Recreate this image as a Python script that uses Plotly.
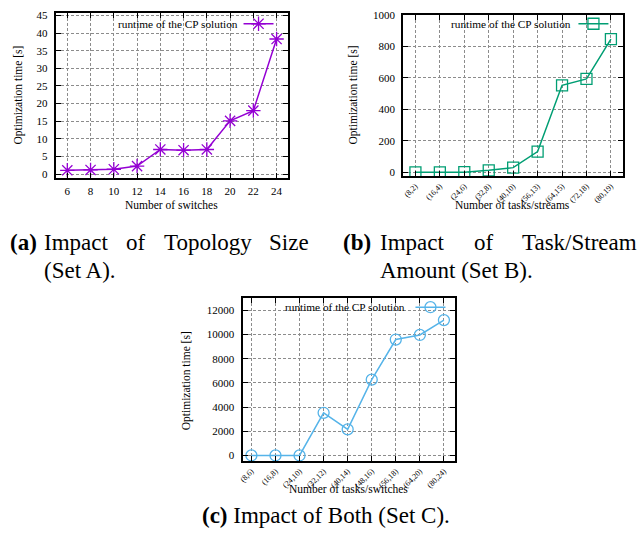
import plotly.graph_objects as go

W, H = 644, 543

# ---------------- data ----------------
a_switches = [6, 8, 10, 12, 14, 16, 18, 20, 22, 24]
a_runtime = [1.1, 1.2, 1.4, 2.3, 7.0, 6.8, 7.0, 15.1, 18.0, 38.3]
a_yticks = [0, 5, 10, 15, 20, 25, 30, 35, 40, 45]

b_labels = ["(8,2)", "(16,4)", "(24,6)", "(32,8)", "(40,10)", "(56,13)", "(64,15)", "(72,18)", "(80,19)"]
b_runtime = [1, 1, 2, 14, 31, 133, 553, 594, 846]
b_yticks = [0, 200, 400, 600, 800, 1000]

c_labels = ["(8,6)", "(16,8)", "(24,10)", "(32,12)", "(40,14)", "(48,16)", "(56,18)", "(64,20)", "(80,24)"]
c_runtime = [0, 0, 0, 3530, 2160, 6270, 9590, 9970, 11200]
c_yticks = [0, 2000, 4000, 6000, 8000, 10000, 12000]

series_name = "runtime of the CP solution"
ytitle = "Optimization time [s]"

FONT = "Liberation Serif, 'Times New Roman', Times, serif"
COL_A = "#9400D3"
COL_B = "#009E73"
COL_C = "#56B4E9"


def fx(px):
    return px / W


def fy(py):
    return 1 - py / H


fig = go.Figure()

fig.add_trace(go.Scatter(
    x=a_switches, y=a_runtime, mode="lines+markers", name="", showlegend=True,
    line=dict(color=COL_A, width=1.5),
    marker=dict(symbol="asterisk-open", size=12, color=COL_A, line=dict(color=COL_A, width=1.3)),
    xaxis="x", yaxis="y", legend="legend"))

fig.add_trace(go.Scatter(
    x=b_labels, y=b_runtime, mode="lines+markers", name="", showlegend=True,
    line=dict(color=COL_B, width=1.5),
    marker=dict(symbol="square-open", size=11, color=COL_B, line=dict(color=COL_B, width=1.3)),
    xaxis="x2", yaxis="y2", legend="legend2"))

fig.add_trace(go.Scatter(
    x=c_labels, y=c_runtime, mode="lines+markers", name="", showlegend=True,
    line=dict(color=COL_C, width=1.5),
    marker=dict(symbol="circle-open", size=11, color=COL_C, line=dict(color=COL_C, width=1.3)),
    xaxis="x3", yaxis="y3", legend="legend3"))

tickfont = dict(family=FONT, size=11, color="black")
rotfont = dict(family=FONT, size=8, color="black")
grid = dict(showgrid=True, gridcolor="#8c8c8c", gridwidth=0.8, griddash="3px,2px",
            showline=True, linecolor="black", linewidth=2, mirror="ticks",
            ticks="inside", ticklen=5, tickwidth=1, tickcolor="black",
            zeroline=False)

fig.update_layout(
    width=W, height=H, margin=dict(l=0, r=0, t=0, b=0),
    paper_bgcolor="white", plot_bgcolor="white",
    font=dict(family=FONT, color="black"),
    showlegend=True,
    xaxis=dict(domain=[fx(52), fx(286)], range=[5, 25], tickvals=a_switches,
               anchor="y", ticklabelstandoff=1, tickfont=tickfont, **grid),
    yaxis=dict(domain=[fy(175), fy(7)], range=[-1.2, 45.7], tickvals=a_yticks,
               anchor="x", ticklabelstandoff=4, tickfont=tickfont, **grid),
    xaxis2=dict(domain=[fx(401.7), fx(623)], range=[-0.5, 8.5], type="category",
                anchor="y2", tickangle=-45, tickfont=rotfont, **grid),
    yaxis2=dict(domain=[fy(173), fy(9)], range=[-25, 1000], tickvals=b_yticks,
                anchor="x2", ticklabelstandoff=4, tickfont=tickfont, **grid),
    xaxis3=dict(domain=[fx(240), fx(454.3)], range=[-0.37, 8.48], type="category",
                anchor="y3", tickangle=-45, tickfont=rotfont, **grid),
    yaxis3=dict(domain=[fy(462.3), fy(296.7)], range=[-500, 13000], tickvals=c_yticks,
                tickformat="d", anchor="x3", ticklabelstandoff=4, tickfont=tickfont, **grid),
)

leg_font = dict(family=FONT, size=11.3, color="black")
leg_common = dict(bgcolor="rgba(0,0,0,0)", borderwidth=0, xanchor="left", yanchor="middle",
                  font=leg_font, itemwidth=30, valign="middle")
fig.update_layout(
    legend=dict(x=fx(236), y=fy(18), **leg_common),
    legend2=dict(x=fx(573), y=fy(18), **leg_common),
    legend3=dict(x=fx(409), y=fy(305.7), **leg_common),
)

# opaque key boxes: above grid, below data
shapes = []
for (x0, x1, y0, y1) in [(100, 285, 8, 27), (438, 622, 10, 26), (270, 453, 298, 315)]:
    shapes.append(dict(type="rect", xref="paper", yref="paper",
                       x0=fx(x0), x1=fx(x1), y0=fy(y1), y1=fy(y0),
                       fillcolor="white", line=dict(width=0), layer="between"))
fig.update_layout(shapes=shapes)

ann = []


def label(text, x, y, size=11, angle=0, xanchor="center"):
    ann.append(dict(text=text, x=fx(x), y=fy(y), xref="paper", yref="paper",
                    showarrow=False, textangle=angle, xanchor=xanchor, yanchor="middle",
                    font=dict(family=FONT, size=size, color="black")))


# key texts (text left of the sample, as in the original)
label(series_name, 237, 18, 11.3, xanchor="right")
label(series_name, 573, 18, 11.3, xanchor="right")
label(series_name, 406, 305.7, 11.3, xanchor="right")

# axis titles
TS = 11.5
label(ytitle, 15, 90, TS, angle=-90)
label(ytitle, 352, 90, TS, angle=-90)
label(ytitle, 184, 380, TS, angle=-90)
label("Number of switches", 169, 202, TS)
label("Number of tasks/streams", 512, 202, TS)
label("Number of tasks/switches", 347, 490, TS)

# captions (justified word placement)
CS = 23
label("<b>(a)</b>", 4, 240, CS, xanchor="left")
label("Impact", 38, 240, CS, xanchor="left")
label("of", 121, 240, CS, xanchor="left")
label("Topology", 159, 240, CS, xanchor="left")
label("Size", 265, 240, CS, xanchor="left")
label("(Set A).", 38, 268, CS, xanchor="left")

label("<b>(b)</b>", 339, 240, CS, xanchor="left")
label("Impact", 376, 240, CS, xanchor="left")
label("of", 471, 240, CS, xanchor="left")
label("Task/Stream", 519, 240, CS, xanchor="left")
label("Amount (Set B).", 376, 268, CS, xanchor="left")

label("<b>(c)</b> Impact of Both (Set C).", 324, 517, CS)

fig.update_layout(annotations=ann)

fig.write_html("out.html", config={"displayModeBar": False},
               post_script="document.body.style.margin='0';document.body.style.overflow='hidden';")
